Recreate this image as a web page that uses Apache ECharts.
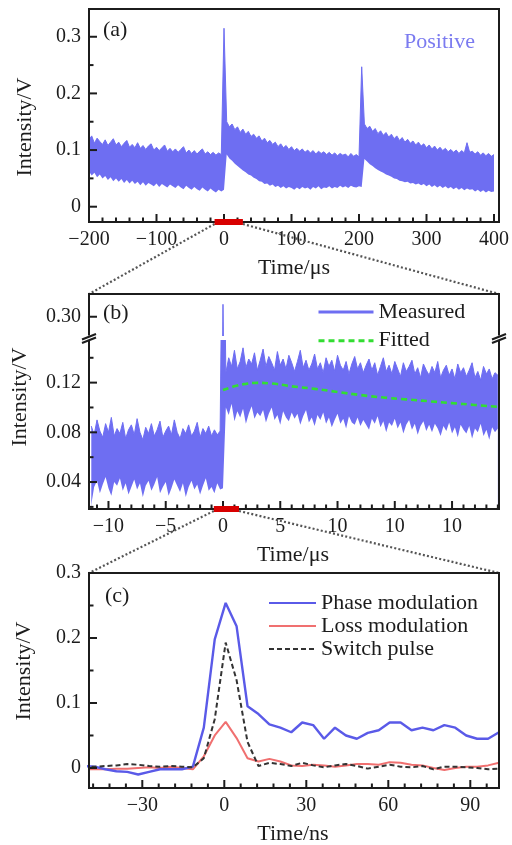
<!DOCTYPE html>
<html><head><meta charset="utf-8">
<script src="https://cdn.jsdelivr.net/npm/echarts@6/dist/echarts.min.js"></script>
<style>html,body{margin:0;padding:0;background:#fff}#c{width:512px;height:845px}</style>
</head><body><div id="c"></div>
<script>
// ================= DATA =================
// Panel (a): envelope of the noisy trace, sampled every 4 µs from -200 µs
const tA0 = -200, dtA = 4;
const uppA = [
 0.118,0.125,0.112,0.121,0.115,0.110,0.118,0.108,0.114,0.120,
 0.109,0.114,0.106,0.112,0.117,0.105,0.110,0.104,0.113,0.103,
 0.108,0.101,0.107,0.111,0.100,0.105,0.099,0.104,0.109,0.098,
 0.103,0.097,0.102,0.096,0.101,0.106,0.095,0.100,0.094,0.099,
 0.093,0.098,0.102,0.093,0.097,0.092,0.096,0.091,0.095,0.092,
 0.315,
 0.150,0.141,0.146,0.136,0.141,0.131,0.137,0.128,0.133,0.124,
 0.128,0.121,0.125,0.116,0.121,0.113,0.117,0.110,0.114,0.106,
 0.111,0.104,0.108,0.101,0.106,0.099,0.103,0.098,0.102,0.096,
 0.100,0.095,0.099,0.093,0.098,0.094,0.097,0.092,0.096,0.091,
 0.095,0.090,0.094,0.091,0.093,0.088,0.094,0.089,0.092,0.088,
 0.247,
 0.146,0.138,0.142,0.133,0.138,0.129,0.134,0.126,0.131,0.123,
 0.128,0.120,0.125,0.117,0.122,0.114,0.119,0.112,0.116,0.109,
 0.114,0.107,0.111,0.104,0.109,0.102,0.107,0.100,0.105,0.099,
 0.103,0.097,0.101,0.096,0.100,0.094,0.099,0.095,0.113,0.096,
 0.098,0.093,0.097,0.091,0.095,0.090,0.094,0.089,0.092
];
const lowA = [
 0.062,0.055,0.060,0.052,0.057,0.050,0.054,0.047,0.052,0.045,
 0.050,0.044,0.049,0.042,0.047,0.041,0.046,0.040,0.044,0.038,
 0.043,0.037,0.042,0.039,0.036,0.041,0.035,0.040,0.037,0.034,
 0.039,0.036,0.033,0.038,0.034,0.031,0.037,0.033,0.030,0.035,
 0.031,0.028,0.034,0.030,0.027,0.032,0.028,0.025,0.030,0.027,
 0.030,
 0.092,0.085,0.081,0.076,0.072,0.068,0.064,0.061,0.057,0.055,
 0.051,0.049,0.045,0.044,0.040,0.041,0.037,0.039,0.035,0.037,
 0.033,0.036,0.032,0.035,0.033,0.030,0.034,0.031,0.035,0.032,
 0.034,0.030,0.035,0.032,0.036,0.031,0.034,0.033,0.036,0.032,
 0.035,0.033,0.037,0.034,0.036,0.033,0.037,0.035,0.034,0.036,
 0.035,
 0.084,0.080,0.075,0.072,0.068,0.065,0.062,0.060,0.057,0.055,
 0.053,0.050,0.049,0.046,0.045,0.043,0.044,0.041,0.042,0.039,
 0.041,0.038,0.040,0.036,0.039,0.035,0.038,0.034,0.037,0.033,
 0.036,0.032,0.035,0.031,0.034,0.030,0.033,0.029,0.032,0.030,
 0.031,0.027,0.030,0.026,0.029,0.025,0.028,0.026,0.027
];
const zoomWinA = [-14, 28];          // red marker on (a): range shown in (b)

// Panel (b): envelope sampled every 0.25 µs from -11.5 µs
const tB0 = -11.5, dtB = 0.25;
const uppB = [
 0.085,0.078,0.090,0.081,0.076,0.087,0.080,0.092,0.077,0.083,
 0.079,0.088,0.075,0.082,0.086,0.078,0.091,0.080,0.074,0.084,
 0.079,0.087,0.077,0.082,0.089,0.076,0.081,0.085,0.078,0.090,
 0.080,0.075,0.083,0.079,0.086,0.077,0.081,0.088,0.076,0.083,
 0.079,0.085,0.077,0.082,0.078,0.081,
 0.310,
 0.128,0.140,0.133,0.146,0.131,0.137,0.148,0.132,0.139,0.135,0.144,0.130,
 0.138,0.147,0.133,0.141,0.136,0.130,0.145,0.134,0.139,0.131,0.142,0.136,
 0.129,0.137,0.146,0.132,0.138,0.130,0.135,0.143,0.131,0.136,0.128,0.140,
 0.133,0.138,0.129,0.142,0.134,0.130,0.137,0.127,0.135,0.141,0.131,0.136,
 0.128,0.134,0.139,0.130,0.136,0.126,0.133,0.140,0.129,0.134,0.127,0.137,
 0.131,0.125,0.136,0.129,0.133,0.138,0.127,0.132,0.124,0.135,0.130,0.126,
 0.133,0.128,0.137,0.124,0.130,0.134,0.126,0.131,0.123,0.135,0.128,0.132,
 0.125,0.130,0.136,0.124,0.129,0.122,0.133,0.127,0.131,0.123,0.128,0.126
];
const lowB = [
 0.022,0.036,0.041,0.031,0.038,0.044,0.035,0.029,0.040,0.037,
 0.043,0.033,0.039,0.030,0.036,0.042,0.034,0.039,0.028,0.037,
 0.041,0.033,0.038,0.044,0.031,0.036,0.040,0.029,0.035,0.042,
 0.037,0.032,0.039,0.028,0.036,0.041,0.034,0.038,0.030,0.037,
 0.043,0.033,0.036,0.031,0.039,0.034,
 0.035,
 0.100,0.094,0.103,0.089,0.097,0.092,0.099,0.087,0.095,0.101,0.091,0.096,
 0.093,0.098,0.088,0.095,0.100,0.090,0.094,0.086,0.097,0.092,0.089,0.096,
 0.091,0.095,0.086,0.093,0.098,0.088,0.092,0.085,0.094,0.090,0.096,0.087,
 0.092,0.084,0.090,0.095,0.087,0.091,0.083,0.093,0.088,0.086,0.092,0.085,
 0.090,0.086,0.082,0.091,0.087,0.093,0.084,0.089,0.080,0.088,0.085,0.091,
 0.083,0.088,0.079,0.086,0.090,0.082,0.087,0.078,0.085,0.089,0.081,0.086,
 0.080,0.087,0.083,0.077,0.085,0.081,0.088,0.079,0.084,0.076,0.086,0.082,
 0.079,0.085,0.075,0.083,0.080,0.087,0.077,0.082,0.074,0.084,0.080,0.083
];
const tFit = [0,1,2,3,4,6,8,10,12,14,16,18,20,22,24];
const vFit = [0.114,0.117,0.119,0.1198,0.1195,0.117,0.115,0.1125,0.110,0.108,0.1065,0.105,0.1035,0.102,0.1005];
const zoomWinB = [-0.8, 1.4];        // red marker on (b): range shown in (c)

// Panel (c)
const tC = [-51.5,-47.5,-43.5,-39.5,-35.5,-31.5,-27.5,-23.5,-19.5,-15.5,-11.5,-7.5,-3.5,0.5,4.5,8.5,12.5,16.5,20.5,24.5,28.5,32.5,36.5,40.5,44.5,48.5,52.5,56.5,60.5,64.5,68.5,72.5,76.5,80.5,84.5,88.5,92.5,96.5,100.5];
const phaseC = [0.003,0.002,-0.002,-0.005,-0.006,-0.010,-0.006,-0.002,-0.002,-0.002,0.002,0.062,0.198,0.254,0.218,0.095,0.083,0.067,0.062,0.055,0.070,0.066,0.045,0.062,0.050,0.045,0.054,0.058,0.070,0.070,0.058,0.062,0.058,0.066,0.062,0.050,0.045,0.045,0.055];
const lossC = [-0.002,-0.002,-0.002,-0.001,-0.001,0.000,0.001,0.000,0.002,0.000,-0.002,0.018,0.050,0.071,0.046,0.015,0.010,0.014,0.010,0.004,0.003,0.005,0.004,0.002,0.004,0.006,0.006,0.005,0.009,0.008,0.005,0.004,0.000,-0.003,0.000,0.002,0.002,0.004,0.008];
const switchC = [0.002,0.002,0.003,0.004,0.006,0.005,0.003,0.002,0.003,0.002,0.001,0.015,0.075,0.193,0.135,0.040,0.003,0.008,0.006,0.003,0.008,0.004,0.001,0.004,0.006,0.003,-0.001,0.002,0.005,0.002,0.001,0.003,-0.002,0.002,0.002,0.001,0.000,-0.002,-0.001];

// Tick values and labels
const xMajA = [-200,-100,0,100,200,300,400], xLabA = ['\u2212200','\u2212100','0','100','200','300','400'];
const yMajA = [0,0.1,0.2,0.3], yLabA = ['0','0.1','0.2','0.3'], yMinA = [0.05,0.15,0.25];
const xMajB = [-10,-5,0,5,10,15,20], xLabB = ['\u221210','\u22125','0','5','10','10','10'];
const yMajBlo = [0.04,0.08,0.12], yLabBlo = ['0.04','0.08','0.12'], yMinBlo = [0.02,0.06,0.10,0.14];
const yMajBup = [0.30], yLabBup = ['0.30'];
const xMajC = [-30,0,30,60,90], xLabC = ['\u221230','0','30','60','90'];
const yMajC = [0,0.1,0.2,0.3], yLabC = ['0','0.1','0.2','0.3'], yMinC = [0.05,0.15,0.25];

// ================= LAYOUT / STYLE =================
const L = 89, W = 410;
const G = { A:{top:9,height:213}, Bup:{top:294,height:42}, Blo:{top:340,height:169}, C:{top:573,height:215} };
const xRangeA = [-200,400], yRangeA = [-0.027,0.349];
const xRangeB = [-11.7,24.1], yRangeBup = [0.2845,0.3183], yRangeBlo = [0.0183,0.1543];
const xRangeC = [-49.5,100.5], yRangeC = [-0.0308,0.3];
const FONT = '"Liberation Serif","Times New Roman",serif';
const INK = '#1c1c1c', BAND = '#6e6ef2', PBLUE = '#5a5ae8', RED = '#f07070', GREEN = '#33dd33', MARK = '#d80000';

function minorsBetween(start, step, max, majors) {
  const out = [];
  for (let v = start; v <= max + 1e-9; v += step) {
    const r = Math.round(v * 1000) / 1000;
    if (!majors.some(m => Math.abs(m - r) < 1e-9)) out.push(r);
  }
  return out;
}
const xMinA = minorsBetween(-180, 20, 400, xMajA);
const xMinB = minorsBetween(-11, 1, 24, xMajB);
const xMinC = minorsBetween(-48, 6, 100, xMajC);

const grids = ['A','Bup','Blo','C'].map(k => ({left:L, width:W, top:G[k].top, height:G[k].height, containLabel:false}));
function axis(dim, gi, range, majors, labels, hidden) {
  return {type:'value', gridIndex:gi, min:range[0], max:range[1], position: dim === 'x' ? 'bottom' : 'left',
    splitLine:{show:false}, axisLine:{show:false, onZero:false}, axisTick:{show:false}, silent:true,
    axisLabel:{show: !hidden, customValues: majors, margin: 8, fontFamily: FONT, fontSize: 20, color: INK,
      formatter: v => { const k = majors.findIndex(m => Math.abs(m - v) < 1e-9); return k < 0 ? '' : labels[k]; }}};
}
const xAxes = [
  axis('x',0,xRangeA,xMajA,xLabA),
  axis('x',1,xRangeB,[],[],true),
  axis('x',2,xRangeB,xMajB,xLabB),
  axis('x',3,xRangeC,xMajC,xLabC)
];
const yAxes = [
  axis('y',0,yRangeA,yMajA,yLabA),
  axis('y',1,yRangeBup,yMajBup,yLabBup),
  axis('y',2,yRangeBlo,yMajBlo,yLabBlo),
  axis('y',3,yRangeC,yMajC,yLabC)
];

// noisy trace drawn as its envelope: upper edge filled in blue, area under the lower edge left white
function band(name, gi, t0, dt, upp, low) {
  const up = upp.map((v,i) => [t0 + i*dt, v]);
  const lo = low.map((v,i) => [t0 + i*dt, v]);
  return [
    {name: name, type:'line', xAxisIndex:gi, yAxisIndex:gi, data:up, symbol:'none', lineStyle:{color:BAND, width:1}, itemStyle:{color:BAND},
     areaStyle:{color:BAND, opacity:1, origin:'start'}, silent:true, z:2},
    {name: name + ' lower', type:'line', xAxisIndex:gi, yAxisIndex:gi, data:lo, symbol:'none', lineStyle:{width:0, opacity:0},
     areaStyle:{color:'#ffffff', opacity:1, origin:'start'}, silent:true, z:3}
  ];
}
function markBar(gi, win, y0) {
  return {type:'line', xAxisIndex:gi, yAxisIndex:gi, data:[[win[0], y0],[win[1], y0]], symbol:'none', clip:false, silent:true,
          lineStyle:{color:MARK, width:6, cap:'butt'}, z:200};
}
const zip = (t, v) => t.map((x,i) => [x, v[i]]);

// inward tick marks as custom series, positioned through the axis scales
const TW = 2, MAJ = 8, MIN = 4.5;
function tickSeries(gi, dim, xr, yr, vals, len) {
  return {type:'custom', xAxisIndex:gi, yAxisIndex:gi, silent:true, clip:false, z:60,
    data: vals.map(v => [v, 0]),
    renderItem: (params, api) => {
      const v = api.value(0);
      if (dim === 'x') {
        const p = api.coord([v, yr[0]]);
        return {type:'rect', shape:{x:p[0]-TW/2, y:p[1]-len, width:TW, height:len}, style:{fill:INK}};
      }
      const p = api.coord([xr[0], v]);
      return {type:'rect', shape:{x:p[0], y:p[1]-TW/2, width:len, height:TW}, style:{fill:INK}};
    }};
}

const series = [
  ...band('Positive', 0, tA0, dtA, uppA, lowA),
  markBar(0, zoomWinA, yRangeA[0]),
  ...band('Measured', 1, tB0, dtB, uppB, lowB),
  ...band('Measured', 2, tB0, dtB, uppB, lowB),
  {name:'Fitted', type:'line', xAxisIndex:2, yAxisIndex:2, data:zip(tFit, vFit), smooth:true, symbol:'none', lineStyle:{color:GREEN, width:2.6, type:[6,4]}, itemStyle:{color:GREEN}, z:5},
  markBar(2, zoomWinB, yRangeBlo[0]),
  {name:'Phase modulation', type:'line', xAxisIndex:3, yAxisIndex:3, data:zip(tC, phaseC), symbol:'none', lineStyle:{color:PBLUE, width:2.4}, itemStyle:{color:PBLUE}, z:4},
  {name:'Loss modulation', type:'line', xAxisIndex:3, yAxisIndex:3, data:zip(tC, lossC), symbol:'none', lineStyle:{color:RED, width:2}, itemStyle:{color:RED}, z:3},
  {name:'Switch pulse', type:'line', xAxisIndex:3, yAxisIndex:3, data:zip(tC, switchC), symbol:'none', lineStyle:{color:'#333', width:2, type:[5,3]}, itemStyle:{color:'#333'}, z:5},
  tickSeries(0,'x',xRangeA,yRangeA,xMajA,MAJ), tickSeries(0,'x',xRangeA,yRangeA,xMinA,MIN),
  tickSeries(0,'y',xRangeA,yRangeA,yMajA,MAJ), tickSeries(0,'y',xRangeA,yRangeA,yMinA,MIN),
  tickSeries(1,'y',xRangeB,yRangeBup,yMajBup,MAJ),
  tickSeries(2,'x',xRangeB,yRangeBlo,xMajB,MAJ), tickSeries(2,'x',xRangeB,yRangeBlo,xMinB,MIN),
  tickSeries(2,'y',xRangeB,yRangeBlo,yMajBlo,MAJ), tickSeries(2,'y',xRangeB,yRangeBlo,yMinBlo,MIN),
  tickSeries(3,'x',xRangeC,yRangeC,xMajC,MAJ), tickSeries(3,'x',xRangeC,yRangeC,xMinC,MIN),
  tickSeries(3,'y',xRangeC,yRangeC,yMajC,MAJ), tickSeries(3,'y',xRangeC,yRangeC,yMinC,MIN)
];

const legendText = {fontFamily: FONT, fontSize: 22, color: INK, lineHeight: 22};
const chart = echarts.init(document.getElementById('c'), null, {renderer:'canvas'});
chart.setOption({
  animation:false,
  backgroundColor:'#fff',
  grid: grids,
  xAxis: xAxes,
  yAxis: yAxes,
  legend: [
    {data:['Measured','Fitted'], orient:'vertical', left:317, top:301, itemWidth:55, itemHeight:14, itemGap:6.7, padding:0, z:50,
     selectedMode:false, textStyle:legendText, lineStyle:{width:3}, itemStyle:{opacity:0}},
    {data:['Phase modulation','Loss modulation','Switch pulse'], orient:'vertical', left:268, top:592, itemWidth:47, itemHeight:14, itemGap:1, padding:0, z:50,
     selectedMode:false, textStyle:legendText, itemStyle:{opacity:0}}
  ],
  series: series
});

// ================= DECORATIONS =================
const px = (gi, pt) => chart.convertToPixel({xAxisIndex:gi, yAxisIndex:gi}, pt);
const gfx = [];
function frame(top, h) {
  gfx.push({type:'rect', shape:{x:L, y:top, width:W, height:h}, style:{fill:'none', stroke:INK, lineWidth:2}, z:100, silent:true});
}
frame(G.A.top, G.A.height);
frame(G.Bup.top, G.Blo.top + G.Blo.height - G.Bup.top);
frame(G.C.top, G.C.height);
// axis break on (b): blank strip between the two y ranges and slash marks on both sides
const gapTop = G.Bup.top + G.Bup.height, gapBot = G.Blo.top;
gfx.push({type:'rect', shape:{x:L+1, y:gapTop, width:W-2, height:gapBot-gapTop}, style:{fill:'#fff'}, z:20, silent:true});
const yBrk = (gapTop + gapBot) / 2;
[L, L + W].forEach(x0 => {
  gfx.push({type:'rect', shape:{x:x0-3, y:yBrk-2.5, width:6, height:5}, style:{fill:'#fff'}, z:110, silent:true});
  gfx.push({type:'line', shape:{x1:x0-7, y1:yBrk+1.5, x2:x0+7, y2:yBrk-4}, style:{stroke:INK, lineWidth:2}, z:111, silent:true});
  gfx.push({type:'line', shape:{x1:x0-7, y1:yBrk+5, x2:x0+7, y2:yBrk-0.5}, style:{stroke:INK, lineWidth:2}, z:111, silent:true});
});
// dotted connectors
function connector(p, q) {
  gfx.push({type:'line', shape:{x1:p[0], y1:p[1], x2:q[0], y2:q[1]}, style:{stroke:'#555', lineWidth:2.2, lineDash:[2,2.2]}, z:90, silent:true});
}
const a0 = px(0, [zoomWinA[0], yRangeA[0]]), a1 = px(0, [zoomWinA[1], yRangeA[0]]);
connector([a0[0], a0[1]+2], [L, G.Bup.top]);
connector([a1[0], a1[1]+2], [L+W, G.Bup.top]);
const b0 = px(2, [zoomWinB[0], yRangeBlo[0]]), b1 = px(2, [zoomWinB[1], yRangeBlo[0]]);
connector([b0[0], b0[1]+2], [L, G.C.top]);
connector([b1[0], b1[1]+2], [L+W, G.C.top]);
// texts
function txt(s, x, y, opt) {
  opt = opt || {};
  gfx.push({type:'text', x:x, y:y, rotation: opt.rot || 0, z:120, silent:true,
    style:{text:s, font:(opt.size||22)+'px '+FONT, fill:opt.color||INK,
      align:opt.align||'left', verticalAlign:'middle', textAlign:opt.align||'left', textVerticalAlign:'middle'}});
}
txt('(a)', 103, 30);
txt('(b)', 103, 313);
txt('(c)', 105, 596);
txt('Positive', 404, 42, {color:'#7b7bf0'});
txt('Time/\u03bcs', 294, 268, {align:'center'});
txt('Time/\u03bcs', 293, 555, {align:'center'});
txt('Time/ns', 293, 834, {align:'center'});
txt('Intensity/V', 25, 127, {align:'center', rot:Math.PI/2});
txt('Intensity/V', 20, 397, {align:'center', rot:Math.PI/2});
txt('Intensity/V', 24, 671, {align:'center', rot:Math.PI/2});
chart.setOption({graphic: gfx});
</script></body></html>
